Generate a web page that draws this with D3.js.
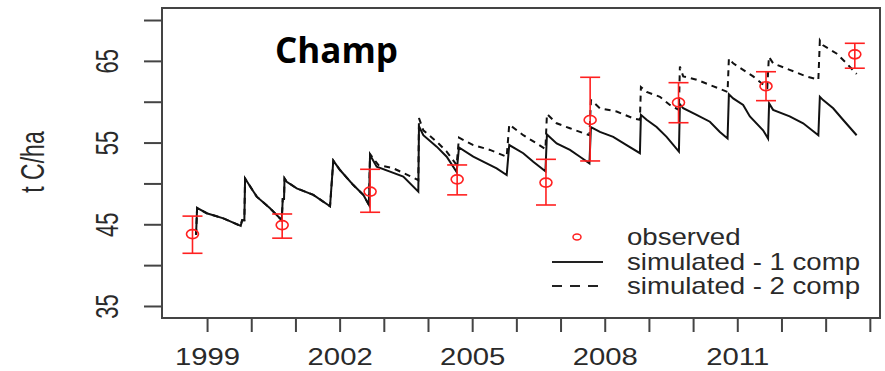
<!DOCTYPE html>
<html lang="en">
<head>
<meta charset="UTF-8">
<title>Champ</title>
<script src="https://cdn.jsdelivr.net/npm/d3@7"></script>
<style>
  body { margin: 0; background: #fff; }
  svg { display: block; }
  .lab { font-family: "Liberation Sans", Arial, sans-serif; fill: #2a2a2a; }
</style>
</head>
<body>
<div id="chart"></div>
<script>
// observed soil C (t C/ha) with error bars
const obsYear  = [1998.67, 2000.70, 2002.69, 2004.66, 2006.67, 2007.67, 2009.67, 2011.65, 2013.66];
const obsValue = [43.8, 44.9, 49.0, 50.5, 50.1, 57.76, 59.9, 61.9, 65.8];
const obsLow   = [41.45, 43.3, 46.47, 48.6, 47.36, 52.75, 57.43, 60.13, 64.1];
const obsHigh  = [46.0, 46.26, 51.73, 52.26, 52.95, 62.99, 62.33, 63.67, 67.15];

// simulated - 1 comp
const sim1Year = [1998.751, 1998.774, 1998.993, 1999.369, 1999.762, 1999.792, 1999.844, 1999.860,
  2000.124, 2000.425, 2000.690, 2000.713, 2000.742, 2000.753, 2000.803, 2001.029, 2001.405, 2001.783,
  2001.857, 2002.009, 2002.310, 2002.536, 2002.665, 2002.688, 2002.839, 2003.140, 2003.441, 2003.781,
  2003.796, 2003.894, 2004.197, 2004.423, 2004.649, 2004.701, 2005.025, 2005.328, 2005.554, 2005.781,
  2005.839, 2006.156, 2006.382, 2006.658, 2006.692, 2006.912, 2007.213, 2007.439, 2007.654, 2007.688,
  2007.891, 2008.192, 2008.495, 2008.796, 2008.819, 2008.948, 2009.174, 2009.400, 2009.679, 2009.701,
  2009.776, 2010.079, 2010.380, 2010.606, 2010.780, 2010.810, 2010.907, 2011.133, 2011.285, 2011.584,
  2011.697, 2011.720, 2011.811, 2012.186, 2012.491, 2012.835, 2012.869, 2012.943, 2013.170, 2013.398,
  2013.701];
const sim1Value = [43.7, 47.0, 46.35, 45.73, 44.8, 45.5, 45.5, 50.6,
  48.38, 46.96, 45.5, 48.1, 48.1, 50.6, 50.2, 49.4, 48.6, 47.2,
  52.8, 51.64, 49.8, 48.6, 47.36, 53.48, 52.05, 51.44, 50.83, 48.99,
  57.0, 55.9, 54.5, 53.27, 51.4, 54.4, 53.27, 52.46, 51.85, 51.03,
  54.7, 53.7, 52.66, 51.5, 56.0, 54.9, 54.1, 53.27, 52.46, 56.9,
  56.3, 55.7, 54.7, 53.7, 58.4, 57.8, 56.9, 55.7, 53.9, 59.7,
  59.2, 58.4, 57.55, 56.3, 55.5, 60.9, 60.4, 59.6, 58.2, 56.5,
  55.5, 59.8, 59.0, 58.2, 57.36, 55.9, 60.6, 60.2, 59.2, 57.76,
  55.9];

// simulated - 2 comp
const sim2Year = [1998.751, 1998.774, 1998.993, 1999.369, 1999.762, 1999.792, 1999.844, 1999.860,
  2000.124, 2000.425, 2000.690, 2000.713, 2000.742, 2000.753, 2000.803, 2001.029, 2001.405, 2001.783,
  2001.857, 2002.009, 2002.310, 2002.536, 2002.665, 2002.688, 2002.875, 2003.215, 2003.593, 2003.781,
  2003.796, 2003.894, 2004.197, 2004.423, 2004.649, 2004.701, 2005.025, 2005.403, 2005.781,
  2005.839, 2006.156, 2006.459, 2006.658, 2006.692, 2006.912, 2007.213, 2007.654, 2007.688,
  2007.891, 2008.269, 2008.644, 2008.796, 2008.819, 2008.948, 2009.249, 2009.475, 2009.679, 2009.701,
  2009.776, 2010.079, 2010.380, 2010.780, 2010.810, 2010.907, 2011.133, 2011.359, 2011.679,
  2011.715, 2011.811, 2012.186, 2012.564, 2012.835, 2012.869, 2012.943, 2013.246, 2013.472,
  2013.701];
const sim2Value = [43.7, 47.0, 46.35, 45.73, 44.8, 45.5, 45.5, 50.6,
  48.38, 46.96, 45.5, 48.1, 48.1, 50.6, 50.2, 49.4, 48.6, 47.2,
  52.8, 51.64, 49.8, 48.6, 47.36, 53.6, 52.26, 51.85, 50.9, 50.4,
  58.0, 56.5, 55.1, 53.9, 52.26, 55.6, 54.7, 54.1, 53.27,
  57.2, 55.9, 54.9, 54.2, 58.5, 57.36, 56.75, 55.9, 60.2,
  59.2, 58.8, 57.97, 57.8, 61.8, 61.2, 60.6, 59.6, 59.0, 64.3,
  63.1, 62.7, 62.05, 61.2, 65.3, 64.7, 63.9, 63.1, 61.7,
  65.5, 64.7, 63.9, 63.1, 62.7, 67.5, 66.9, 65.9, 64.7,
  63.4];

const yearTicks = [1999, 2000, 2001, 2002, 2003, 2004, 2005, 2006, 2007, 2008, 2009, 2010, 2011, 2012, 2013, 2014];
const yearLabels = [1999, 2002, 2005, 2008, 2011];
const yTicks = [35, 40, 45, 50, 55, 60, 65, 70];
const yLabels = [35, 45, 55, 65];
const legendLabels = ["observed", "simulated - 1 comp", "simulated - 2 comp"];

const width = 885, height = 371;
const box = { left: 162, right: 880, top: 8, bottom: 318 };

const svg = d3.select("#chart").append("svg")
  .attr("width", width)
  .attr("height", height);

const x = d3.scaleLinear().domain([1997.98, 2014.23]).range([box.left, box.right]);
const y = d3.scaleLinear().domain([33.53, 71.47]).range([box.bottom, box.top]);

// x axis
const xAxis = svg.append("g")
  .attr("transform", `translate(0,${box.bottom})`)
  .call(d3.axisBottom(x).tickValues(yearTicks).tickSize(14).tickSizeOuter(0)
    .tickFormat(d => yearLabels.includes(d) ? d : ""));
xAxis.select(".domain").remove();
xAxis.selectAll(".tick line").attr("stroke", "#444").attr("stroke-width", 2);
xAxis.selectAll(".tick text")
  .attr("class", "lab")
  .attr("y", 0).attr("dy", 0)
  .attr("font-size", 24)
  .attr("transform", "translate(0,47) scale(1.22,1)");

// y axis
const yAxis = svg.append("g")
  .attr("transform", `translate(${box.left},0)`)
  .call(d3.axisLeft(y).tickValues(yTicks).tickSize(18).tickSizeOuter(0)
    .tickFormat(d => yLabels.includes(d) ? d : ""));
yAxis.select(".domain").remove();
yAxis.selectAll(".tick line").attr("stroke", "#444").attr("stroke-width", 2);
yAxis.selectAll(".tick text")
  .attr("class", "lab")
  .attr("x", 0).attr("dy", 0)
  .attr("font-size", 22)
  .attr("text-anchor", "middle")
  .attr("transform", "translate(-44,0) rotate(-90) scale(1,1.45)");

svg.append("text")
  .attr("class", "lab")
  .attr("font-size", 23)
  .attr("text-anchor", "middle")
  .attr("transform", "translate(44,162) rotate(-90) scale(1,1.45)")
  .text("t C/ha");

// plot frame
svg.append("rect")
  .attr("x", box.left).attr("y", box.top)
  .attr("width", box.right - box.left).attr("height", box.bottom - box.top)
  .attr("fill", "none").attr("stroke", "#444").attr("stroke-width", 2);

// simulated lines
const line = d3.line().x(d => x(d[0])).y(d => y(d[1]));
svg.append("path")
  .datum(d3.zip(sim2Year, sim2Value))
  .attr("d", line)
  .attr("fill", "none").attr("stroke", "#111").attr("stroke-width", 2)
  .attr("stroke-dasharray", "6,5");
svg.append("path")
  .datum(d3.zip(sim1Year, sim1Value))
  .attr("d", line)
  .attr("fill", "none").attr("stroke", "#111").attr("stroke-width", 2);

// observed points + error bars
const obs = obsYear.map((t, i) => ({ t, v: obsValue[i], lo: obsLow[i], hi: obsHigh[i] }));
const og = svg.append("g").attr("stroke", "#ff2020").attr("stroke-width", 1.6).attr("fill", "none");
og.selectAll(".bar").data(obs).join("line")
  .attr("x1", d => x(d.t)).attr("x2", d => x(d.t))
  .attr("y1", d => y(d.lo)).attr("y2", d => y(d.hi));
og.selectAll(".capHi").data(obs).join("line")
  .attr("x1", d => x(d.t) - 10).attr("x2", d => x(d.t) + 10)
  .attr("y1", d => y(d.hi)).attr("y2", d => y(d.hi));
og.selectAll(".capLo").data(obs).join("line")
  .attr("x1", d => x(d.t) - 10).attr("x2", d => x(d.t) + 10)
  .attr("y1", d => y(d.lo)).attr("y2", d => y(d.lo));
og.selectAll("ellipse").data(obs).join("ellipse")
  .attr("cx", d => x(d.t)).attr("cy", d => y(d.v))
  .attr("rx", 6).attr("ry", 4.5);

// title
svg.append("text")
  .attr("x", 275).attr("y", 63)
  .attr("font-family", "'Open Sans', sans-serif")
  .attr("font-weight", "bold")
  .attr("font-size", 35)
  .attr("fill", "#000")
  .text("Champ");

// legend
const legend = svg.append("g");
const rowY = [245, 270, 294];
legend.append("ellipse")
  .attr("cx", 577).attr("cy", 237).attr("rx", 4).attr("ry", 3)
  .attr("fill", "none").attr("stroke", "#ff2020").attr("stroke-width", 1.5);
legend.append("line")
  .attr("x1", 552).attr("x2", 603).attr("y1", 262).attr("y2", 262)
  .attr("stroke", "#222").attr("stroke-width", 2);
legend.append("line")
  .attr("x1", 552).attr("x2", 600).attr("y1", 286).attr("y2", 286)
  .attr("stroke", "#222").attr("stroke-width", 2).attr("stroke-dasharray", "10,8");
legend.selectAll("text").data(legendLabels).join("text")
  .attr("class", "lab")
  .attr("font-size", 23)
  .attr("transform", (d, i) => `translate(627,${rowY[i]}) scale(1.2,1)`)
  .text(d => d);
</script>
</body>
</html>
